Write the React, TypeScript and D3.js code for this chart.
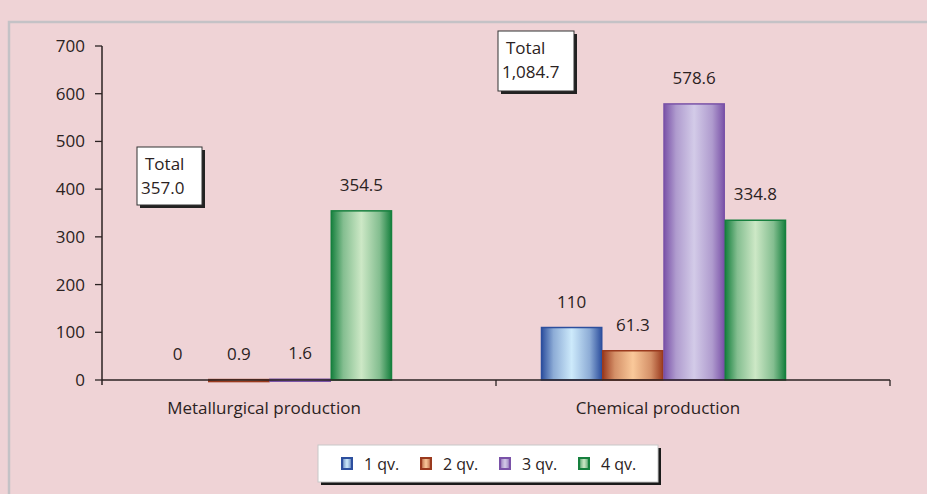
import React from "react";
import * as d3 from "d3";

const categories = ["Metallurgical production", "Chemical production"];
const seriesNames = ["1 qv.", "2 qv.", "3 qv.", "4 qv."];
const q1 = [0, 110];
const q2 = [0.9, 61.3];
const q3 = [1.6, 578.6];
const q4 = [354.5, 334.8];
const valueLabels = [["0", "0.9", "1.6", "354.5"], ["110", "61.3", "578.6", "334.8"]];
const totals = ["357.0", "1,084.7"];
const yTicks = [0, 100, 200, 300, 400, 500, 600, 700];

const edgeColors = ["#2d4f9e", "#9a3a1e", "#7a52a8", "#16803e"];
const midColors = ["#cdeafb", "#fac99a", "#d3cbe8", "#cde8c6"];

const W = 927;
const H = 494;
const FONT = "'Open Sans', 'Liberation Sans', sans-serif";
const FS = 17;

export default function App() {
  const series = [q1, q2, q3, q4];
  const y = d3.scaleLinear().domain([0, 700]).range([380, 46]);
  const x0 = d3.scaleBand<string>().domain(categories).range([102, 890]);
  const x1 = d3.scaleBand<number>().domain([0, 1, 2, 3]).range([45, 290]).paddingInner(0);
  const bw = x1.bandwidth();

  const totalBoxes = [
    { x: 137, y: 147, w: 65, h: 58 },
    { x: 498, y: 31, w: 76, h: 60 },
  ];

  return (
    <div style={{ position: "fixed", left: 0, top: 0 }}>
      <svg width={W} height={H} style={{ display: "block" }}>
        <defs>
          {edgeColors.map((c, i) => (
            <linearGradient key={i} id={`g${i}`} x1="0" x2="1" y1="0" y2="0">
              <stop offset="0" stopColor={c} />
              <stop offset="0.2" stopColor={d3.interpolateRgb(c, midColors[i])(0.6)} />
              <stop offset="0.5" stopColor={midColors[i]} />
              <stop offset="0.8" stopColor={d3.interpolateRgb(c, midColors[i])(0.6)} />
              <stop offset="1" stopColor={c} />
            </linearGradient>
          ))}
        </defs>
        <rect x={0} y={0} width={W} height={H} fill="#efd3d6" />
        <rect x={9} y={22} width={W + 10} height={H + 10} fill="none" stroke="#c4c2c6" strokeWidth={2.5} />

        {/* y axis */}
        <line x1={102} x2={102} y1={y(700)} y2={y(0) + 5} stroke="#2b2222" strokeWidth={1.5} />
        {yTicks.map((t) => (
          <g key={t}>
            <line x1={95} x2={102} y1={y(t)} y2={y(t)} stroke="#2b2222" strokeWidth={1.3} />
            <text x={85} y={y(t)} dy="0.35em" textAnchor="end" fontFamily={FONT} fontSize={FS} fill="#2b2222">
              {t}
            </text>
          </g>
        ))}

        {/* bars */}
        {categories.map((cat, ci) => {
          const bx = x0(cat)!;
          return (
            <g key={cat}>
              {series.map((s, si) => {
                const v = s[ci];
                const top = y(v);
                const h = y(0) - top;
                const xx = bx + x1(si)!;
                return (
                  <g key={si}>
                    {v > 0 && (
                      <rect
                        x={xx + 0.5}
                        y={top}
                        width={bw - 1}
                        height={Math.max(h, 2)}
                        fill={`url(#g${si})`}
                        stroke={edgeColors[si]}
                        strokeWidth={1.5}
                      />
                    )}
                    <text
                      x={xx + bw / 2}
                      y={Math.min(top, y(0)) - 20}
                      textAnchor="middle"
                      fontFamily={FONT}
                      fontSize={FS}
                      fill="#2b2222"
                    >
                      {valueLabels[ci][si]}
                    </text>
                  </g>
                );
              })}
              <text
                x={bx + 162}
                y={414}
                textAnchor="middle"
                fontFamily={FONT}
                fontSize={FS}
                fill="#2b2222"
              >
                {cat}
              </text>
            </g>
          );
        })}

        {/* x axis */}
        <line x1={102} x2={890} y1={y(0)} y2={y(0)} stroke="#2b2222" strokeWidth={1.5} />
        {[...categories.map((c) => x0(c)! + x0.bandwidth())].map((xx, i) => (
          <line key={i} x1={xx} x2={xx} y1={y(0)} y2={y(0) + 6} stroke="#2b2222" strokeWidth={1.3} />
        ))}

        {/* total boxes */}
        {totalBoxes.map((b, i) => (
          <g key={i}>
            <rect x={b.x + 3} y={b.y + 3} width={b.w} height={b.h} fill="#222" />
            <rect x={b.x} y={b.y} width={b.w} height={b.h} fill="#ffffff" stroke="#333" strokeWidth={1} />
            <text x={b.x + 8} y={b.y + 23} fontFamily={FONT} fontSize={FS} fill="#2b2222">
              Total
            </text>
            <text x={b.x + 4} y={b.y + 47} fontFamily={FONT} fontSize={FS} fill="#2b2222">
              {totals[i]}
            </text>
          </g>
        ))}

        {/* legend */}
        <g>
          <rect x={321} y={448} width={340} height={37} fill="#1a1a1a" />
          <rect x={318} y={445} width={340} height={37} fill="#ffffff" stroke="#c8c8c8" strokeWidth={1} />
          {seriesNames.map((n, i) => {
            const lx = 342 + i * 79;
            return (
              <g key={n}>
                <rect x={lx} y={458} width={10} height={11} fill={`url(#g${i})`} stroke={edgeColors[i]} strokeWidth={2} />
                <text x={lx + 22} y={464} dy="0.35em" fontFamily={FONT} fontSize={FS - 1} fill="#2b2222">
                  {n}
                </text>
              </g>
            );
          })}
        </g>
      </svg>
    </div>
  );
}
